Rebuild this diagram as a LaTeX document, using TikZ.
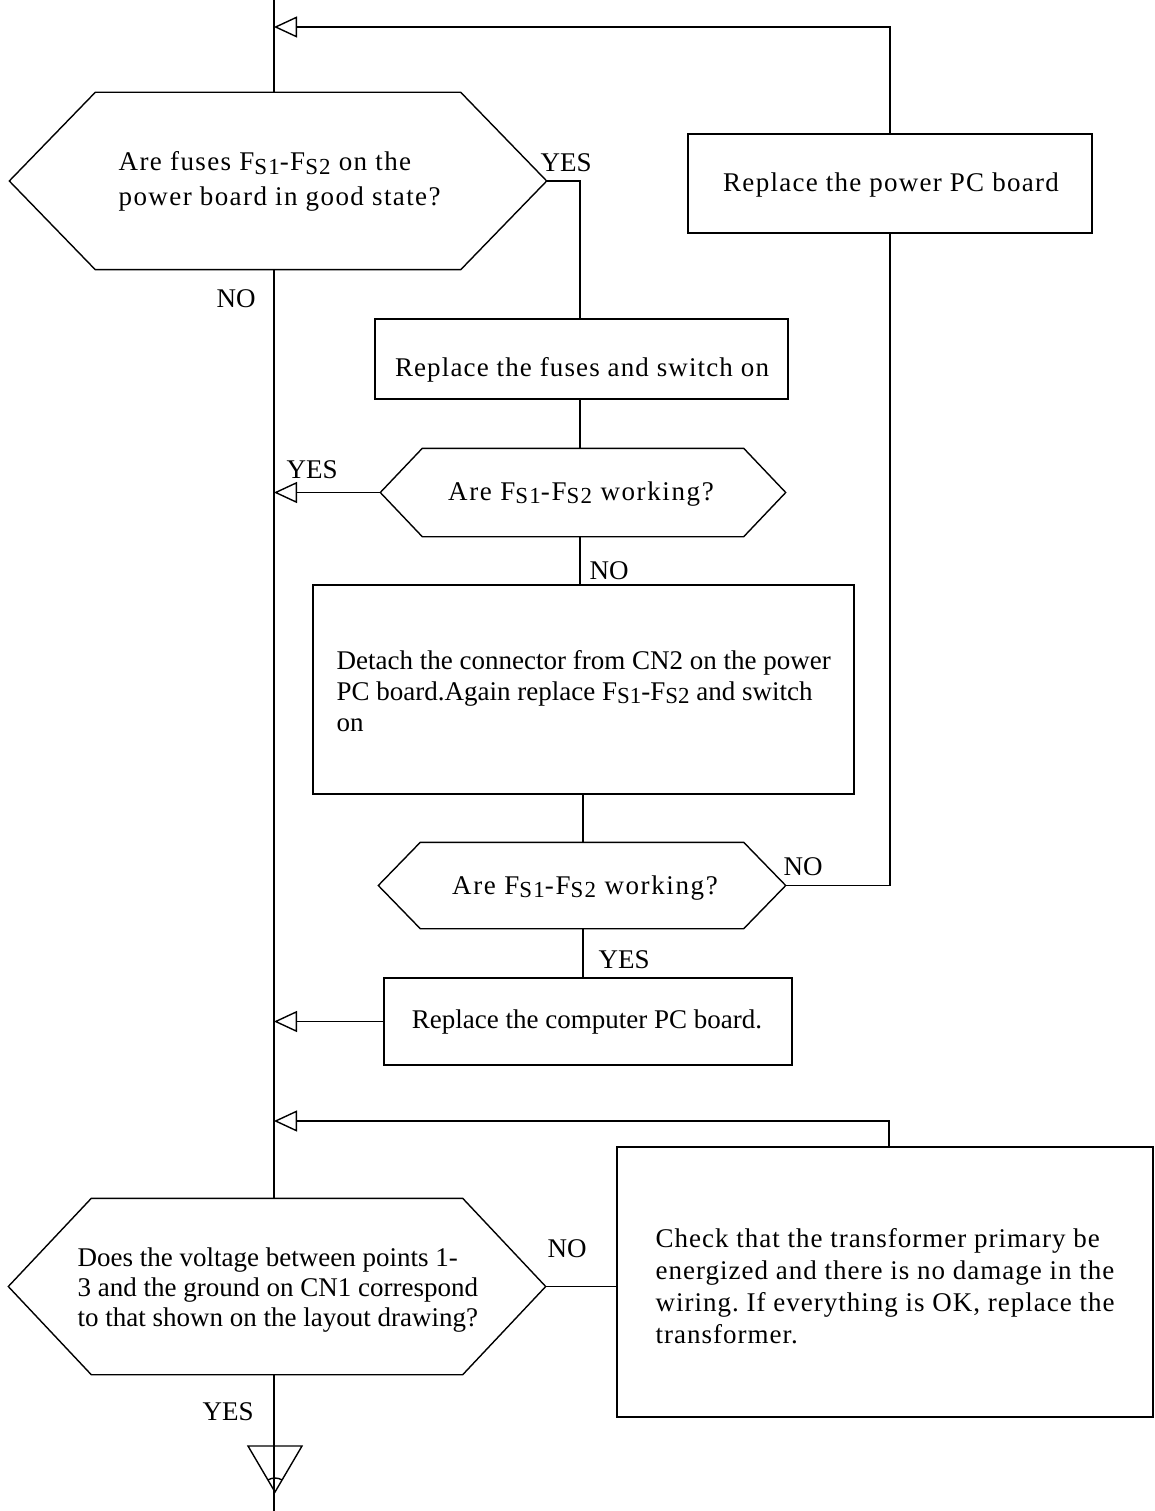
\documentclass[tikz,border=0pt]{standalone}
\usepackage{fontspec}
\setmainfont{Liberation Serif}
\newfontfamily\spacedA[LetterSpace=5.2]{Liberation Serif}
\newfontfamily\spacedB[LetterSpace=3.7]{Liberation Serif}
\usetikzlibrary{arrows.meta,calc}
\frenchspacing
\newcommand\fsub[1]{F\raisebox{-0.12em}{\scalebox{0.85}{S#1}}}
\newcommand\lsp[1]{\addfontfeature{LetterSpace=#1}}
% name, cx, cy, half flat width, half height, pointer length
\newcommand\hexshape[6]{%
  \node[hexcore, minimum width={2*#4}, minimum height={2*#5}] (#1) at (#2,#3) {};
  \draw (#1.north west) -- (#1.north east) -- ([xshift=#6pt]#1.east) coordinate (#1-e)
        -- (#1.south east) -- (#1.south west) -- ([xshift=-#6pt]#1.west) coordinate (#1-w) -- cycle;
}
\begin{document}
\begin{tikzpicture}[x=1pt,y=-1pt,
  line width=1.4pt,
  every node/.style={inner sep=0pt, font=\fontsize{27}{31}\selectfont},
  box/.style={draw, rectangle, line width=1.4pt},
  hexcore/.style={rectangle, draw=none},
  lbl/.style={anchor=base west},
  txt/.style={anchor=base west, align=left},
  ctxt/.style={anchor=base},
  arr/.style={-{Triangle[open,length=23pt,width=21pt]}},
]
\fill[white] (0,0) rectangle (1155,1511);
\useasboundingbox (0,0) rectangle (1155,1511);

\coordinate (top) at (274,0);
\coordinate (bot) at (274,1511);
\coordinate (c1) at (580,0);
\coordinate (c2) at (583,0);

% boxes
\node[box, minimum width=404pt, minimum height=99pt] (b1) at (890,183.5) {};
\node[ctxt] (b1t) at (891,192) {\lsp{4.7}Replace the power PC board};

\node[box, minimum width=413pt, minimum height=80pt] (b2) at (581.5,359) {};
\node[ctxt] (b2t) at (582,376) {\lsp{4.2}Replace the fuses and switch on};

\node[box, minimum width=541pt, minimum height=209pt] (b3) at (583.5,689.5) {};
\node[txt] (b3t) at (336,731) {Detach the connector from CN2 on the power\\PC board.Again replace \fsub1-\fsub2 and switch\\on};

\node[box, minimum width=408pt, minimum height=87pt] (b4) at (588,1021.5) {};
\node[ctxt] (b4t) at (587,1028) {Replace the computer PC board.};

\node[box, minimum width=536pt, minimum height=270pt] (b5) at (885,1282) {};
\node[txt, font=\spacedB\fontsize{27}{32}\selectfont] (b5t) at (655,1343) {Check that the transformer primary be\\energized and there is no damage in the\\wiring. If everything is OK, replace the\\transformer.};

% decisions
\hexshape{h1}{278}{181}{182}{88}{86}
\node[txt, font=\spacedA\fontsize{27}{35}\selectfont] (h1t) at (118,206) {Are fuses \fsub1-\fsub2 on the\\power board in good state?};

\hexshape{h2}{583}{492.5}{160}{43.5}{42}
\node[ctxt] (h2t) at (581,500) {\lsp{6}Are \fsub1-\fsub2 working?};

\hexshape{h3}{582}{885.5}{161}{42.5}{42}
\node[ctxt] (h3t) at (585,894) {\lsp{6}Are \fsub1-\fsub2 working?};

\hexshape{h4}{277}{1286.5}{185}{87.5}{83}
\node[txt, font=\fontsize{27}{30}\selectfont] (h4t) at (77,1326) {Does the voltage between points 1-\\3 and the ground on CN1 correspond\\to that shown on the layout drawing?};

% connectors
\draw (top) -- (top |- h1.north);
\draw (h1.south -| top) -- (h4.north -| top);
\draw (h4.south -| top) -- (bot);

\coordinate (r1) at (890,27);
\draw[arr] (b1.north) |- (top |- r1);

\draw (h1-e) -| (b2.north -| c1);
\draw (b2.south -| c1) -- (h2.north -| c1);
\draw[arr] (h2-w) -- (h2-w -| top);
\draw (h2.south -| c1) -- (b3.north -| c1);
\draw (b3.south -| c2) -- (h3.north -| c2);
\draw (h3-e) -| (b1.south);
\draw (h3.south -| c2) -- (b4.north -| c2);
\draw[arr] (b4.west) -- (b4.west -| top);

\coordinate (r2) at (889,1121);
\draw[arr] (b5.north -| r2) |- (top |- r2);
\draw (h4-e) -- (h4-e -| b5.west);

% end marker
\draw (248,1446) -- (302,1446) -- (275,1492) -- cycle;
\draw (275,1492) ++(-60:14) arc[start angle=-60, end angle=-120, radius=14];

% labels
\node[lbl] (yes1) at (540,172) {YES};
\node[lbl] (no1) at (216,308) {NO};
\node[lbl] (yes2) at (286,478) {YES};
\node[lbl] (no2) at (589,579) {NO};
\node[lbl] (no3) at (783,875) {NO};
\node[lbl] (yes3) at (598,968) {YES};
\node[lbl] (no4) at (547,1257) {NO};
\node[lbl] (yes4) at (202,1420) {YES};
\end{tikzpicture}
\end{document}
